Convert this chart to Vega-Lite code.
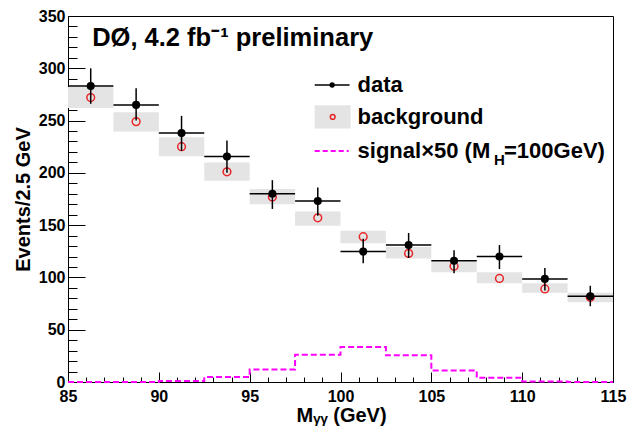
{
  "$schema": "https://vega.github.io/schema/vega-lite/v6.json",
  "width": 545,
  "height": 366,
  "autosize": {"type": "none"},
  "padding": {"left": 68, "top": 16, "right": 14, "bottom": 46},
  "background": "white",
  "config": {
    "view": {"stroke": "black", "strokeWidth": 1},
    "font": "Liberation Sans"
  },
  "resolve": {"axis": {"x": "independent", "y": "independent"}},
  "datasets": {
    "bins": [
      {"lo": 85, "hi": 87.5, "c": 86.25, "d": 283, "dlo": 266, "dhi": 300, "b": 272, "blo": 262, "bhi": 282},
      {"lo": 87.5, "hi": 90, "c": 88.75, "d": 265, "dlo": 250, "dhi": 281, "b": 249, "blo": 239.5, "bhi": 258},
      {"lo": 90, "hi": 92.5, "c": 91.25, "d": 238, "dlo": 221, "dhi": 254.5, "b": 225, "blo": 216, "bhi": 234},
      {"lo": 92.5, "hi": 95, "c": 93.75, "d": 215.6, "dlo": 200, "dhi": 231, "b": 201, "blo": 192.5, "bhi": 210},
      {"lo": 95, "hi": 97.5, "c": 96.25, "d": 180, "dlo": 165.5, "dhi": 193, "b": 177, "blo": 170, "bhi": 184.5},
      {"lo": 97.5, "hi": 100, "c": 98.75, "d": 173, "dlo": 159, "dhi": 186, "b": 157, "blo": 149.5, "bhi": 163},
      {"lo": 100, "hi": 102.5, "c": 101.25, "d": 124.7, "dlo": 113.6, "dhi": 137, "b": 139, "blo": 132.7, "bhi": 144.7},
      {"lo": 102.5, "hi": 105, "c": 103.75, "d": 131, "dlo": 118.7, "dhi": 142.5, "b": 123, "blo": 118, "bhi": 129},
      {"lo": 105, "hi": 107.5, "c": 106.25, "d": 116, "dlo": 104, "dhi": 126, "b": 110.7, "blo": 105, "bhi": 115},
      {"lo": 107.5, "hi": 110, "c": 108.75, "d": 120, "dlo": 108, "dhi": 131, "b": 99, "blo": 94.5, "bhi": 105},
      {"lo": 110, "hi": 112.5, "c": 111.25, "d": 98.6, "dlo": 87.5, "dhi": 109, "b": 89, "blo": 85.3, "bhi": 94.5},
      {"lo": 112.5, "hi": 115, "c": 113.75, "d": 82, "dlo": 72.5, "dhi": 92, "b": 81, "blo": 76.3, "bhi": 85.3}
    ],
    "signal": [
      {"x": 85, "s": 0}, {"x": 87.5, "s": 0}, {"x": 90, "s": 1}, {"x": 92.5, "s": 4.8},
      {"x": 95, "s": 12}, {"x": 97.5, "s": 26}, {"x": 100, "s": 33.4}, {"x": 102.5, "s": 25.5},
      {"x": 105, "s": 11}, {"x": 107.5, "s": 4}, {"x": 110, "s": 0.5}, {"x": 112.5, "s": 0},
      {"x": 115, "s": 0}
    ]
  },
  "layer": [
    {
      "data": {"name": "bins"},
      "mark": {"type": "rect", "color": "#e4e4e4"},
      "encoding": {
        "x": {
          "field": "lo", "type": "quantitative",
          "scale": {"domain": [85, 115], "nice": false, "zero": false},
          "axis": {
            "orient": "bottom",
            "values": [85,86,87,88,89,90,91,92,93,94,95,96,97,98,99,100,101,102,103,104,105,106,107,108,109,110,111,112,113,114,115],
            "labelExpr": "datum.value % 5 === 0 ? datum.label : ''",
            "tickSize": {"condition": {"test": "datum.value % 5 === 0", "value": -10}, "value": -5},
            "tickColor": "black", "tickWidth": 1,
            "domainColor": "black",
            "grid": false,
            "labelFont": "Liberation Sans", "labelFontSize": 16, "labelFontWeight": "bold", "labelColor": "black",
            "labelPadding": 16, "labelFlush": false, "labelOverlap": false,
            "title": "Mᵧᵧ (GeV)",
            "titleFont": "Liberation Sans", "titleFontSize": 20, "titleFontWeight": "bold", "titleColor": "black",
            "titleAnchor": "start", "titleAlign": "left", "titleX": 228, "titleY": 39, "titleBaseline": "alphabetic"
          }
        },
        "x2": {"field": "hi"},
        "y": {
          "field": "blo", "type": "quantitative",
          "scale": {"domain": [0, 350], "nice": false},
          "axis": {
            "orient": "left",
            "values": [0,10,20,30,40,50,60,70,80,90,100,110,120,130,140,150,160,170,180,190,200,210,220,230,240,250,260,270,280,290,300,310,320,330,340,350],
            "labelExpr": "datum.value % 50 === 0 ? datum.label : ''",
            "tickSize": {"condition": {"test": "datum.value % 50 === 0", "value": -17}, "value": -9},
            "tickColor": "black", "tickWidth": 1,
            "domainColor": "black",
            "grid": false,
            "labelFont": "Liberation Sans", "labelFontSize": 16, "labelFontWeight": "bold", "labelColor": "black",
            "labelPadding": 20, "labelFlush": false, "labelOverlap": false,
            "title": "Events/2.5 GeV",
            "titleFont": "Liberation Sans", "titleFontSize": 20, "titleFontWeight": "bold", "titleColor": "black",
            "titleAngle": -90, "titleAlign": "center", "titleBaseline": "alphabetic", "titleX": -39, "titleY": 183
          }
        },
        "y2": {"field": "bhi"}
      }
    },
    {
      "data": {"name": "signal"},
      "mark": {"type": "line", "interpolate": "step-after", "color": "#ff00ff", "strokeWidth": 2, "strokeDash": [6, 3]},
      "encoding": {
        "x": {"field": "x", "type": "quantitative", "axis": null},
        "y": {"field": "s", "type": "quantitative", "axis": null}
      }
    },
    {
      "data": {"name": "bins"},
      "mark": {"type": "point", "shape": "circle", "filled": false, "color": "#e8262a", "strokeWidth": 1.5, "size": 60, "opacity": 1},
      "encoding": {
        "x": {"field": "c", "type": "quantitative", "axis": null},
        "y": {"field": "b", "type": "quantitative", "axis": null}
      }
    },
    {
      "data": {"name": "bins"},
      "mark": {"type": "rule", "color": "black", "strokeWidth": 1.5},
      "encoding": {
        "x": {"field": "lo", "type": "quantitative", "axis": null},
        "x2": {"field": "hi"},
        "y": {"field": "d", "type": "quantitative", "axis": null}
      }
    },
    {
      "data": {"name": "bins"},
      "mark": {"type": "rule", "color": "black", "strokeWidth": 1.5},
      "encoding": {
        "x": {"field": "c", "type": "quantitative", "axis": null},
        "y": {"field": "dlo", "type": "quantitative", "axis": null},
        "y2": {"field": "dhi"}
      }
    },
    {
      "data": {"name": "bins"},
      "mark": {"type": "point", "shape": "circle", "filled": true, "color": "black", "size": 65, "opacity": 1},
      "encoding": {
        "x": {"field": "c", "type": "quantitative", "axis": null},
        "y": {"field": "d", "type": "quantitative", "axis": null}
      }
    },
    {
      "data": {"values": [{"t": "DØ, 4.2 fb⁻¹ preliminary"}]},
      "mark": {"type": "text", "align": "left", "baseline": "middle", "font": "Liberation Sans", "fontSize": 25.5, "fontWeight": "bold", "color": "black"},
      "encoding": {
        "x": {"datum": 86.33, "type": "quantitative", "axis": null},
        "y": {"datum": 328.6, "type": "quantitative", "axis": null},
        "text": {"field": "t"}
      }
    },
    {
      "data": {"values": [{"k": "data"}]},
      "mark": {"type": "rule", "color": "black", "strokeWidth": 1.5},
      "encoding": {
        "x": {"datum": 98.58, "type": "quantitative", "axis": null},
        "x2": {"datum": 100.5},
        "y": {"datum": 284, "type": "quantitative", "axis": null}
      }
    },
    {
      "data": {"values": [{"k": "data"}]},
      "mark": {"type": "point", "shape": "circle", "filled": true, "color": "black", "size": 28, "opacity": 1},
      "encoding": {
        "x": {"datum": 99.54, "type": "quantitative", "axis": null},
        "y": {"datum": 284, "type": "quantitative", "axis": null}
      }
    },
    {
      "data": {"values": [{"k": "background"}]},
      "mark": {"type": "rect", "color": "#e4e4e4"},
      "encoding": {
        "x": {"datum": 98.58, "type": "quantitative", "axis": null},
        "x2": {"datum": 100.56},
        "y": {"datum": 242.4, "type": "quantitative", "axis": null},
        "y2": {"datum": 264.7}
      }
    },
    {
      "data": {"values": [{"k": "background"}]},
      "mark": {"type": "point", "shape": "circle", "filled": false, "color": "#e8262a", "strokeWidth": 1.5, "size": 22, "opacity": 1},
      "encoding": {
        "x": {"datum": 99.57, "type": "quantitative", "axis": null},
        "y": {"datum": 253.5, "type": "quantitative", "axis": null}
      }
    },
    {
      "data": {"values": [{"k": "signal"}]},
      "mark": {"type": "rule", "color": "#ff00ff", "strokeWidth": 2, "strokeDash": [5, 3]},
      "encoding": {
        "x": {"datum": 98.58, "type": "quantitative", "axis": null},
        "x2": {"datum": 100.45},
        "y": {"datum": 221, "type": "quantitative", "axis": null}
      }
    },
    {
      "data": {"values": [{"t": "data", "y": 284}, {"t": "background", "y": 253.5}, {"t": "signal×50 (M", "y": 221}]},
      "mark": {"type": "text", "align": "left", "baseline": "middle", "font": "Liberation Sans", "fontSize": 22, "fontWeight": "bold", "color": "black"},
      "encoding": {
        "x": {"datum": 100.94, "type": "quantitative", "axis": null},
        "y": {"field": "y", "type": "quantitative", "axis": null},
        "text": {"field": "t"}
      }
    },
    {
      "data": {"values": [{"t": "H"}]},
      "mark": {"type": "text", "align": "left", "baseline": "middle", "font": "Liberation Sans", "fontSize": 15, "fontWeight": "bold", "color": "black"},
      "encoding": {
        "x": {"datum": 108.45, "type": "quantitative", "axis": null},
        "y": {"datum": 212, "type": "quantitative", "axis": null},
        "text": {"field": "t"}
      }
    },
    {
      "data": {"values": [{"t": "=100GeV)"}]},
      "mark": {"type": "text", "align": "left", "baseline": "middle", "font": "Liberation Sans", "fontSize": 22, "fontWeight": "bold", "color": "black"},
      "encoding": {
        "x": {"datum": 109.0, "type": "quantitative", "axis": null},
        "y": {"datum": 221, "type": "quantitative", "axis": null},
        "text": {"field": "t"}
      }
    }
  ]
}
